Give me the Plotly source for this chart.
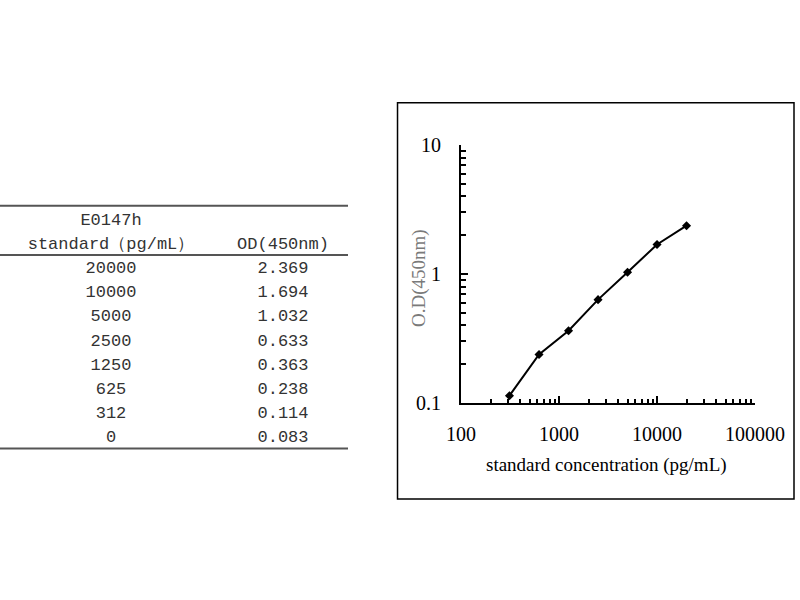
import plotly.graph_objects as go

# standard curve data (E0147h ELISA)
std_conc = [20000, 10000, 5000, 2500, 1250, 625, 312, 0]
od_450 = [2.369, 1.694, 1.032, 0.633, 0.363, 0.238, 0.114, 0.083]
od_text = ["2.369", "1.694", "1.032", "0.633", "0.363", "0.238", "0.114", "0.083"]

x_tickvals = [100, 1000, 10000, 100000]
x_ticktext = ["100", "1000", "10000", "100000"]
y_tickvals = [0.1, 1, 10]
y_ticktext = ["0.1", "1", "10"]

header_col1 = ["E0147h", "standard（pg/mL）"]
header_col2 = ["", "OD(450nm)"]

serif = "Liberation Serif"
mono = "Liberation Mono"

# the blank (0) cannot go on a log axis
curve_x = [c for c in std_conc if c > 0]
curve_y = [v for c, v in zip(std_conc, od_450) if c > 0]

fig = go.Figure()

fig.add_trace(go.Scatter(x=curve_x, y=curve_y, mode='lines+markers',
                         line=dict(color='black', width=2),
                         marker=dict(symbol='diamond', size=7, color='black'),
                         showlegend=False, hoverinfo='skip'))

# table drawn as text on a hidden axis pair, rows by index
rows = list(range(len(std_conc)))
col1_x, col2_x = 111, 283
tfont = dict(family=mono, size=17, color='#333333')
fig.add_trace(go.Scatter(x=[col1_x] * len(rows), y=rows, text=[str(c) for c in std_conc],
                         mode='text', textfont=tfont,
                         xaxis='x2', yaxis='y2', showlegend=False, hoverinfo='skip'))
fig.add_trace(go.Scatter(x=[col2_x] * len(rows), y=rows, text=od_text,
                         mode='text', textfont=tfont,
                         xaxis='x2', yaxis='y2', showlegend=False, hoverinfo='skip'))
fig.add_trace(go.Scatter(x=[col1_x, col1_x, col2_x], y=[-2, -1, -1],
                         text=[header_col1[0], header_col1[1], header_col2[1]],
                         mode='text', textfont=tfont,
                         xaxis='x2', yaxis='y2', showlegend=False, hoverinfo='skip'))

# table rules
for r in [-2.62, -0.58, 7.45]:
    fig.add_shape(type='line', xref='x2', yref='y2', x0=0, x1=348, y0=r, y1=r,
                  line=dict(color='#555555', width=2))

# frame round the chart
fig.add_shape(type='rect', xref='paper', yref='paper',
              x0=0.4969, x1=0.9925, y0=0.1683, y1=0.8288,
              line=dict(color='black', width=1.5))

# axis titles
fig.add_annotation(text='standard concentration (pg/mL)', xref='paper', yref='paper',
                   x=0.7575, y=0.225, xanchor='center', yanchor='middle', showarrow=False,
                   font=dict(family=serif, size=19, color='black'))
fig.add_annotation(text='O.D(450nm)', xref='paper', yref='paper',
                   x=0.524, y=0.537, xanchor='center', yanchor='middle', showarrow=False,
                   textangle=-90,
                   font=dict(family=serif, size=19, color='#7a7a7a'))

fig.update_layout(
    width=800, height=600,
    margin=dict(l=0, r=0, t=0, b=0, autoexpand=False),
    paper_bgcolor='white', plot_bgcolor='white',
    xaxis=dict(type='log', domain=[0.5763, 0.9438], range=[2, 5], automargin=False,
               tickmode='array', tickvals=x_tickvals, ticktext=x_ticktext,
               ticks='inside', ticklen=7, tickwidth=2, tickcolor='black',
               minor=dict(ticks='inside', ticklen=4, tickwidth=2, tickcolor='black', dtick='D1'),
               showline=True, linecolor='black', linewidth=2, showgrid=False, zeroline=False,
               ticklabelstandoff=12,
               tickfont=dict(family=serif, size=20, color='black')),
    yaxis=dict(type='log', domain=[0.3283, 0.7583], range=[-1, 1], automargin=False,
               tickmode='array', tickvals=y_tickvals, ticktext=y_ticktext,
               ticks='inside', ticklen=7, tickwidth=2, tickcolor='black',
               minor=dict(ticks='inside', ticklen=5, tickwidth=2, tickcolor='black', dtick='D1'),
               showline=True, linecolor='black', linewidth=2, showgrid=False, zeroline=False,
               ticklabelstandoff=14,
               tickfont=dict(family=serif, size=20, color='black')),
    xaxis2=dict(domain=[0, 0.435], range=[0, 348], visible=False, anchor='y2', automargin=False),
    yaxis2=dict(domain=[0.2303, 0.6722], range=[8, -3], visible=False, anchor='x2', automargin=False),
)

# drop the page's default body margin so the figure sits at the window corner
fig.write_html("out.html", config={'displayModeBar': False},
               post_script="document.body.style.margin='0';")
